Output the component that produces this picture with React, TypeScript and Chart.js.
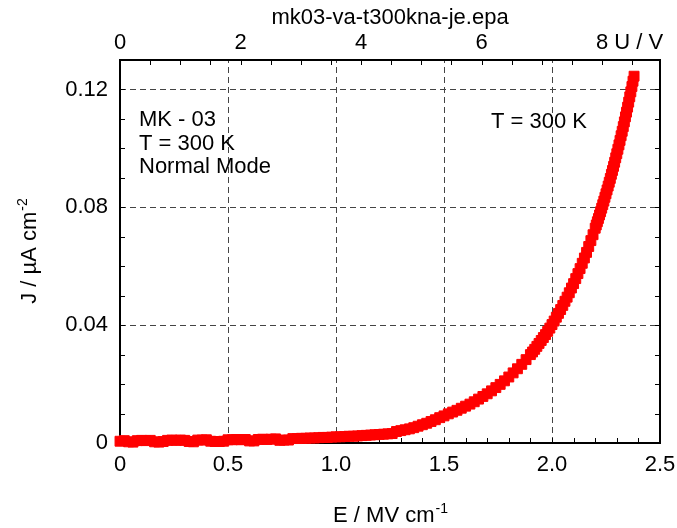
import { useEffect, useRef } from "react";
import { Chart, registerables } from "chart.js";

Chart.register(...registerables);

// ---- data (E in MV/cm, J in µA/cm²) ----
const E_FIELD = [
  0.0, 0.02, 0.04, 0.06, 0.08, 0.1, 0.12, 0.14, 0.16, 0.18, 0.2, 0.22, 0.24, 0.26, 0.28, 0.3,
  0.32, 0.34, 0.36, 0.38, 0.4, 0.42, 0.44, 0.46, 0.48, 0.5, 0.52, 0.54, 0.56, 0.58, 0.6, 0.62,
  0.64, 0.66, 0.68, 0.7, 0.72, 0.74, 0.76, 0.78, 0.8, 0.82, 0.84, 0.86, 0.88, 0.9, 0.92, 0.94,
  0.96, 0.98, 1.0, 1.02, 1.04, 1.06, 1.08, 1.1, 1.12, 1.14, 1.16, 1.18, 1.2, 1.22, 1.24, 1.26,
  1.28, 1.3, 1.32, 1.34, 1.36, 1.38, 1.4, 1.42, 1.44, 1.46, 1.48, 1.5, 1.52, 1.54, 1.56, 1.58,
  1.6, 1.62, 1.64, 1.66, 1.68, 1.7, 1.72, 1.74, 1.76, 1.78, 1.8, 1.82, 1.84, 1.86, 1.88, 1.9,
  1.91, 1.92, 1.93, 1.94, 1.95, 1.96, 1.97, 1.98, 1.99, 2.0, 2.01, 2.02, 2.03, 2.04, 2.05,
  2.06, 2.07, 2.08, 2.09, 2.1, 2.11, 2.12, 2.13, 2.14, 2.15, 2.16, 2.17, 2.18, 2.19, 2.2,
  2.205, 2.21, 2.215, 2.22, 2.225, 2.23, 2.235, 2.24, 2.245, 2.25, 2.255, 2.26, 2.265, 2.27,
  2.275, 2.28, 2.285, 2.29, 2.295, 2.3, 2.305, 2.31, 2.315, 2.32, 2.325, 2.33, 2.335, 2.34,
  2.345, 2.35, 2.355, 2.36, 2.365, 2.37, 2.375, 2.38,
];

const J_DENSITY = [
  0.0006, 0.0008, 0.0004, 0.0003, 0.0008, 0.0009, 0.0008, 0.0009, 0.0004, 0.0003, 0.0005, 0.0009,
  0.001, 0.0009, 0.001, 0.0009, 0.0005, 0.0004, 0.001, 0.001, 0.0011, 0.0006, 0.0005, 0.0005,
  0.0006, 0.0011, 0.0011, 0.0012, 0.0011, 0.0012, 0.0007, 0.0007, 0.0012, 0.0013, 0.0012, 0.0013,
  0.0014, 0.0009, 0.001, 0.001, 0.0015, 0.0015, 0.0016, 0.0016, 0.0017, 0.0017, 0.0018, 0.0019,
  0.0019, 0.002, 0.0021, 0.0021, 0.0022, 0.0023, 0.0023, 0.0024, 0.0025, 0.0026, 0.0027, 0.0028,
  0.0029, 0.003, 0.0031, 0.0032,
  0.0039, 0.0042, 0.0045, 0.0048, 0.0052, 0.0057, 0.0062, 0.0067, 0.0073, 0.0079, 0.0086, 0.0092,
  0.0099, 0.0105, 0.0111, 0.0118, 0.0125, 0.0132, 0.014, 0.0149, 0.0158, 0.0167, 0.0177, 0.0188,
  0.0199, 0.0211, 0.0224, 0.0238, 0.0252, 0.0267, 0.0283, 0.03,
  0.0309, 0.0318, 0.0328, 0.0338, 0.0348, 0.0358, 0.0368, 0.0379, 0.039, 0.0402, 0.0414, 0.0427,
  0.044, 0.0453, 0.0467, 0.0481, 0.0495, 0.051, 0.0526, 0.0541, 0.0558, 0.0575, 0.0592, 0.061,
  0.0628, 0.0647, 0.0667, 0.0687, 0.0707, 0.0729,
  0.074, 0.0751, 0.0762, 0.0774, 0.0785, 0.0797, 0.0809, 0.0821, 0.0834, 0.0846, 0.0859, 0.0872,
  0.0885, 0.0898, 0.0912, 0.0925, 0.0939, 0.0953, 0.0968, 0.0982, 0.0997, 0.1012, 0.1027, 0.1043,
  0.1058, 0.1074, 0.109, 0.1107, 0.1123, 0.114, 0.1157, 0.1175, 0.1192, 0.121, 0.1228, 0.1245,
];

// ---- axes ----
const E_RANGE = [0, 2.5];
const E_MAJOR = 0.5;
const E_MINOR = 0.1;
const U_RANGE = [0, 8.96];
const U_MAJOR = 2;
const U_MINOR = 0.5;
const J_RANGE = [0, 0.13];
const J_MAJOR = 0.04;
const J_MINOR = 0.01;

// ---- texts ----
const TITLE = "mk03-va-t300kna-je.epa";
const X_TITLE = ["E / MV cm", "-1"];
const Y_TITLE = ["J / \u00B5A cm", "-2"];
const TOP_UNIT = "U / V";
const NOTE_LEFT = ["MK - 03", "T = 300 K", "Normal Mode"];
const NOTE_RIGHT = "T = 300 K";

const FAMILY = '"Liberation Sans", Arial, Helvetica, sans-serif';
const FS = 22;
const SUP_FS = 14;
const RED = "#ff0000";
const GRID = "#444444";

function drawSupText(ctx: CanvasRenderingContext2D, base: string, sup: string, cx: number, y: number) {
  ctx.font = `${FS}px ${FAMILY}`;
  const wb = ctx.measureText(base).width;
  ctx.font = `${SUP_FS}px ${FAMILY}`;
  const ws = ctx.measureText(sup).width;
  const x0 = cx - (wb + ws) / 2;
  ctx.textAlign = "left";
  ctx.textBaseline = "alphabetic";
  ctx.font = `${FS}px ${FAMILY}`;
  ctx.fillText(base, x0, y);
  ctx.font = `${SUP_FS}px ${FAMILY}`;
  ctx.fillText(sup, x0 + wb + 1, y - 9);
}

function stepsBetween(min: number, max: number, step: number) {
  const out: number[] = [];
  for (let i = 1; min + i * step < max - 1e-9; i++) out.push(min + i * step);
  return out;
}

const framePlugin = {
  id: "frameAndText",
  beforeDatasetsDraw(chart: any) {
    const { ctx, chartArea: a, scales } = chart;
    const x = scales.x;
    const y = scales.y;
    const x2 = scales.x2;
    ctx.save();
    // dashed grid
    ctx.strokeStyle = GRID;
    ctx.lineWidth = 1;
    ctx.setLineDash([6, 4]);
    for (const t of x.ticks) {
      const px = Math.round(x.getPixelForValue(t.value)) + 0.5;
      if (px <= a.left + 1 || px >= a.right - 1) continue;
      ctx.beginPath();
      ctx.moveTo(px, a.bottom);
      ctx.lineTo(px, a.top);
      ctx.stroke();
    }
    for (const t of y.ticks) {
      const py = Math.round(y.getPixelForValue(t.value)) + 0.5;
      if (py >= a.bottom - 1 || py <= a.top + 1) continue;
      ctx.beginPath();
      ctx.moveTo(a.left, py);
      ctx.lineTo(a.right, py);
      ctx.stroke();
    }
    ctx.setLineDash([]);
    // tick marks, pointing inward
    ctx.strokeStyle = "#000";
    ctx.lineWidth = 1;
    const TL = 5;
    ctx.beginPath();
    for (const v of stepsBetween(E_RANGE[0], E_RANGE[1], E_MINOR)) {
      const px = Math.round(x.getPixelForValue(v)) + 0.5;
      ctx.moveTo(px, a.bottom);
      ctx.lineTo(px, a.bottom - TL);
    }
    for (const v of stepsBetween(U_RANGE[0], U_RANGE[1], U_MINOR)) {
      const px = Math.round(x2.getPixelForValue(v)) + 0.5;
      ctx.moveTo(px, a.top);
      ctx.lineTo(px, a.top + TL);
    }
    for (const v of stepsBetween(J_RANGE[0], J_RANGE[1], J_MINOR)) {
      const py = Math.round(y.getPixelForValue(v)) + 0.5;
      ctx.moveTo(a.left, py);
      ctx.lineTo(a.left + TL, py);
      ctx.moveTo(a.right, py);
      ctx.lineTo(a.right - TL, py);
    }
    ctx.stroke();
    // frame
    ctx.lineWidth = 2;
    ctx.strokeRect(a.left, a.top, a.right - a.left, a.bottom - a.top);
    ctx.restore();
  },
  afterDraw(chart: any) {
    const { ctx, chartArea: a, scales } = chart;
    ctx.save();
    ctx.fillStyle = "#000";
    // title
    ctx.font = `${FS}px ${FAMILY}`;
    ctx.textAlign = "center";
    ctx.textBaseline = "alphabetic";
    ctx.fillText(TITLE, (a.left + a.right) / 2, 24);
    // top unit next to last top tick label
    const x2 = scales.x2;
    const lastTop = x2.ticks[x2.ticks.length - 1].value;
    const lastLabel = String(lastTop);
    const p8 = x2.getPixelForValue(lastTop);
    const w8 = ctx.measureText(lastLabel).width;
    const wsp = ctx.measureText(" ").width;
    ctx.textAlign = "left";
    ctx.textBaseline = "middle";
    ctx.fillText(TOP_UNIT, p8 + w8 / 2 + wsp, 60 - 4 - 13.2);
    // axis titles
    drawSupText(ctx, X_TITLE[0], X_TITLE[1], (a.left + a.right) / 2, 522);
    ctx.save();
    ctx.translate(36, (a.top + a.bottom) / 2);
    ctx.rotate(-Math.PI / 2);
    drawSupText(ctx, Y_TITLE[0], Y_TITLE[1], 0, 0);
    ctx.restore();
    // notes
    ctx.font = `${FS}px ${FAMILY}`;
    ctx.textAlign = "left";
    ctx.textBaseline = "alphabetic";
    NOTE_LEFT.forEach((s, i) => ctx.fillText(s, 139, 126 + i * 23.5));
    ctx.fillText(NOTE_RIGHT, 491, 128);
    ctx.restore();
  },
};

export default function App() {
  const ref = useRef<HTMLCanvasElement | null>(null);
  useEffect(() => {
    if (!ref.current) return;
    const tickFont = { family: FAMILY, size: FS };
    const fitH = (h: number) => (s: any) => {
      s.height = h;
      s.paddingLeft = 0;
      s.paddingRight = 0;
    };
    const chart = new Chart(ref.current, {
      type: "scatter",
      data: {
        datasets: [
          {
            data: E_FIELD.map((e, i) => ({ x: e, y: J_DENSITY[i] })),
            pointStyle: "rect",
            pointRadius: 7,
            pointBorderWidth: 1,
            backgroundColor: RED,
            borderColor: RED,
            clip: false,
            showLine: false,
            xAxisID: "x",
            yAxisID: "y",
          } as any,
        ],
      },
      options: {
        animation: false,
        responsive: false,
        devicePixelRatio: 1,
        layout: { padding: { left: 0, right: 17, top: 0, bottom: 0 } },
        plugins: {
          legend: { display: false },
          tooltip: { enabled: false },
          title: { display: false },
        },
        scales: {
          x: {
            type: "linear",
            position: "bottom",
            min: E_RANGE[0],
            max: E_RANGE[1],
            afterFit: fitH(85),
            grid: { display: false, drawTicks: false },
            border: { display: false },
            ticks: {
              stepSize: E_MAJOR,
              includeBounds: false,
              autoSkip: false,
              maxRotation: 0,
              padding: 9,
              color: "#000",
              font: tickFont,
              callback: (v: any) => (Number(v) === 0 ? "0" : Number(v).toFixed(1)),
            },
          },
          x2: {
            type: "linear",
            position: "top",
            min: U_RANGE[0],
            max: U_RANGE[1],
            afterFit: fitH(60),
            grid: { display: false, drawTicks: false },
            border: { display: false },
            ticks: {
              stepSize: U_MAJOR,
              includeBounds: false,
              autoSkip: false,
              maxRotation: 0,
              padding: 4,
              color: "#000",
              font: tickFont,
              callback: (v: any) => String(Math.round(Number(v))),
            },
          },
          y: {
            type: "linear",
            position: "left",
            min: J_RANGE[0],
            max: J_RANGE[1],
            afterFit: (s: any) => {
              s.width = 120;
              s.paddingTop = 0;
              s.paddingBottom = 0;
            },
            grid: { display: false, drawTicks: false },
            border: { display: false },
            ticks: {
              stepSize: J_MAJOR,
              includeBounds: false,
              autoSkip: false,
              padding: 12,
              color: "#000",
              font: tickFont,
              callback: (v: any) => (Number(v) === 0 ? "0" : Number(v).toFixed(2)),
            },
          },
        },
      } as any,
      plugins: [framePlugin],
    });
    return () => chart.destroy();
  }, []);
  return (
    <div style={{ position: "fixed", left: 0, top: 0, width: 677, height: 528, background: "#fff" }}>
      <canvas ref={ref} width={677} height={528} style={{ display: "block" }} />
    </div>
  );
}
